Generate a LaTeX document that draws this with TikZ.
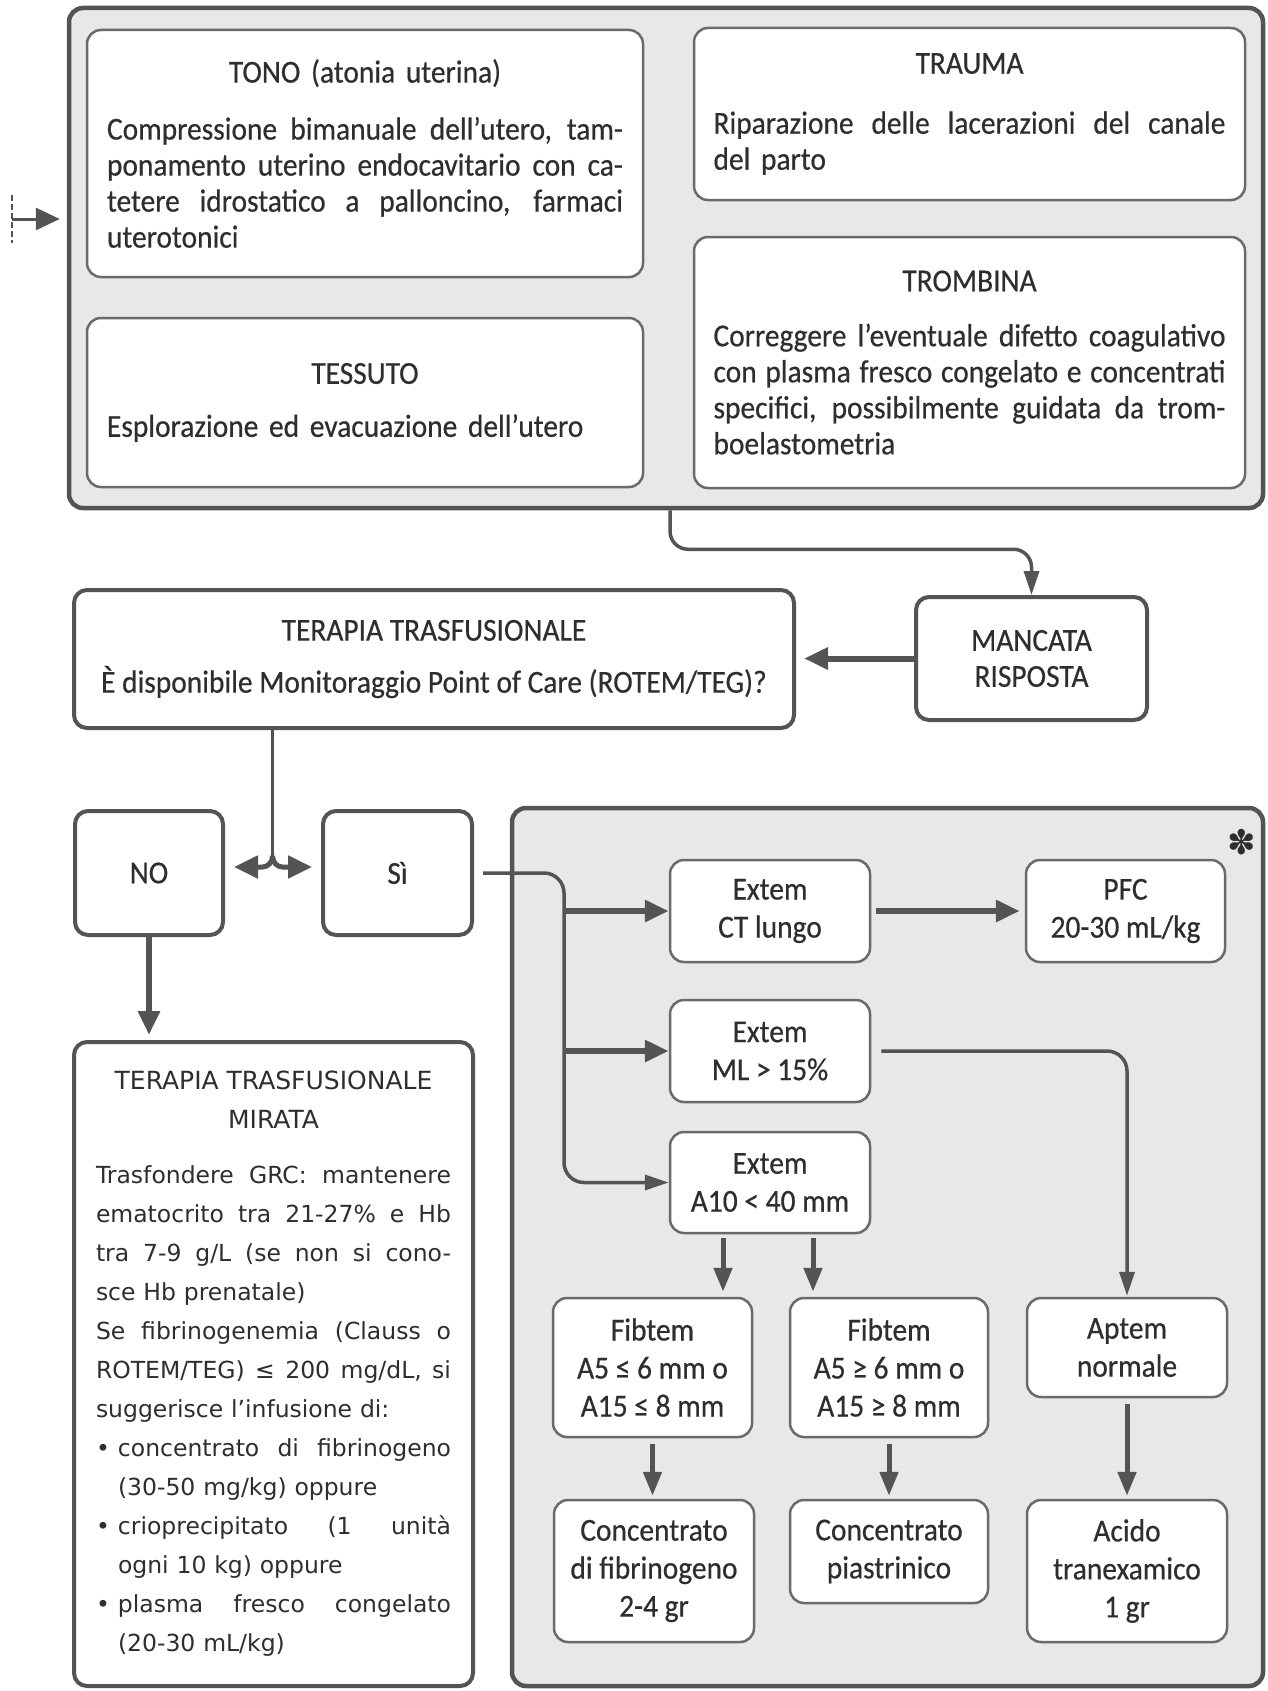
\documentclass[tikz,border=0pt]{standalone}
\usepackage{fontspec}
\setmainfont{Carlito}[FakeStretch=0.92,FakeBold=0.5]
\newfontfamily\widesans{DejaVu Sans}
\usetikzlibrary{arrows.meta}

\definecolor{ink}{HTML}{2E2E2E}
\definecolor{edge}{HTML}{545454}
\definecolor{softedge}{HTML}{6A6A6A}
\definecolor{panelfill}{HTML}{E8E8E8}

% width of the justified lines in the current box
\newlength{\jw}
% one justified line: the word spaces grow until the line fills \jw
\newcommand{\jl}[1]{\hbox to \jw{\spaceskip=\fontdimen2\font plus 1fil\relax #1}\par}
% bullet item line and its indented continuation
\newcommand{\bul}[1]{\hbox to \jw{\hbox to 22pt{•\hfil}\spaceskip=\fontdimen2\font plus 1fil\relax #1}\par}
\newcommand{\ind}[1]{\hspace*{22pt}#1\par}

\begin{document}
\begin{tikzpicture}[x=1pt,y=-1pt,
  every node/.style={font=\fontsize{32}{36}\selectfont, text=ink, inner sep=0pt},
  panel/.style={draw=edge, line width=4.5pt, fill=panelfill, rounded corners=14pt},
  card/.style={draw=softedge, line width=2.5pt, fill=white, rounded corners=14pt},
  whitebox/.style={draw=edge, line width=4pt, fill=white, rounded corners=13pt},
  fatarrow/.style={draw=edge, line width=6pt, -{Triangle[length=24pt,width=21pt]}},
  medarrow/.style={draw=edge, line width=5pt, -{Triangle[length=24pt,width=18pt]}},
  slimarrow/.style={draw=edge, line width=3.5pt, -{Triangle[length=24pt,width=15pt]}},
  bareline/.style={draw=edge, line width=3.5pt},
  testbox/.style={card, align=center, font=\fontsize{32}{38}\selectfont},
]
\useasboundingbox (0,0) rectangle (1268,1691);
\fill[white] (0,0) rectangle (1268,1691);

% ---------- first-line measures (the four T) ----------
\node[panel, minimum width=1194pt, minimum height=500pt] (cause) at (666,258) {};

\node[card, minimum width=556pt, minimum height=247pt, text width=516pt] (tono) at (365,153.5) {%
  \setlength{\jw}{516pt}%
  {\centering TONO (atonia uterina)\par}\vspace{21pt}
  \jl{Compressione bimanuale dell’utero, tam-}
  \jl{ponamento uterino endocavitario con ca-}
  \jl{tetere idrostatico a palloncino, farmaci}
  uterotonici\par};

\node[card, minimum width=556pt, minimum height=169pt, text width=516pt] (tessuto) at (365,402.5) {%
  {\centering TESSUTO\par}\vspace{17pt}
  Esplorazione ed evacuazione dell’utero\par};

\node[card, minimum width=551pt, minimum height=172pt, text width=512pt] (trauma) at (969.5,114) {%
  \setlength{\jw}{512pt}%
  {\centering TRAUMA\par}\vspace{24pt}
  \jl{Riparazione delle lacerazioni del canale}
  del parto\par};

\node[card, minimum width=551pt, minimum height=251pt, text width=512pt] (trombina) at (969.5,362.5) {%
  \setlength{\jw}{512pt}%
  {\centering TROMBINA\par}\vspace{19pt}
  \jl{Correggere l’eventuale difetto coagulativo}
  \jl{con plasma fresco congelato e concentrati}
  \jl{specifici, possibilmente guidata da trom-}
  boelastometria\par};

% entry arrow from the left
\coordinate (entry) at (12,219);
\draw[draw=edge, line width=2pt, dash pattern=on 6pt off 3pt]
  ([yshift=24pt]entry) -- ([yshift=-24pt]entry);
\draw[draw=edge, line width=3pt, -{Triangle[length=24pt,width=22pt]}, shorten >=7pt]
  (entry) -- (entry -| cause.west);

% ---------- no response / transfusion ----------
\node[whitebox, minimum width=231pt, minimum height=123pt, align=center] (mancata) at (1031.5,658.5) {MANCATA\\RISPOSTA};
\node[whitebox, minimum width=720pt, minimum height=138pt, align=center] (terapia) at (434,659)
  {TERAPIA TRASFUSIONALE\\[16pt]È disponibile Monitoraggio Point of Care (ROTEM/TEG)?};

\draw[slimarrow, rounded corners=18pt] ([xshift=4pt]cause.south) -- ++(0,39) -| (mancata.north);
\draw[fatarrow, shorten >=8pt] (mancata.west) -- (terapia.east |- mancata.west);

% ---------- decision ----------
\node[whitebox, minimum width=148pt, minimum height=124pt] (no) at (149,873) {NO};
\node[whitebox, minimum width=149pt, minimum height=124pt] (si) at (397.5,873) {Sì};

\coordinate (split) at (272.5,856);
\coordinate (lc) at (262.5,867);
\coordinate (rc) at (282.5,867);
\draw[bareline] (terapia.south -| split) -- (split);
\draw[draw=edge, line width=5pt, -{Triangle[length=24pt,width=22pt]}, shorten >=9pt]
  (split) to[out=-90,in=0] (lc) -- (lc -| no.east);
\draw[draw=edge, line width=5pt, -{Triangle[length=24pt,width=22pt]}, shorten >=9pt]
  (split) to[out=-90,in=180] (rc) -- (rc -| si.west);

% ---------- targeted therapy without point of care ----------
\node[whitebox, minimum width=399pt, minimum height=644pt, text width=355pt,
      font=\widesans\fontsize{23.5}{39}\selectfont] (mirata) at (273.5,1364) {%
  \setlength{\jw}{355pt}%
  {\centering\fontsize{25}{39}\selectfont TERAPIA TRASFUSIONALE\\MIRATA\par}\vspace{16pt}
  \jl{Trasfondere GRC: mantenere}
  \jl{ematocrito tra 21-27\% e Hb}
  \jl{tra 7-9 g/L (se non si cono-}
  sce Hb prenatale)\par
  \jl{Se fibrinogenemia (Clauss o}
  \jl{ROTEM/TEG) ≤ 200 mg/dL, si}
  suggerisce l’infusione di:\par
  \bul{concentrato di fibrinogeno}
  \ind{(30-50 mg/kg) oppure}
  \bul{crioprecipitato (1 unità}
  \ind{ogni 10 kg) oppure}
  \bul{plasma fresco congelato}
  \ind{(20-30 mL/kg)}};

\draw[fatarrow, shorten >=5pt] (no.south) -- (mirata.north -| no.south);

% ---------- point-of-care algorithm ----------
\node[panel, minimum width=751pt, minimum height=878pt] (tests) at (887.5,1247) {};
\node[font=\widesans\fontsize{34}{34}\selectfont, text=ink] (star) at (1242,842) {✽};

\node[testbox, minimum width=200pt, minimum height=102pt] (ct) at (770,911) {Extem\\CT lungo};
\node[testbox, minimum width=199pt, minimum height=102pt] (pfc) at (1125.5,911) {PFC\\20-30 mL/kg};
\node[testbox, minimum width=200pt, minimum height=102pt] (ml) at (770,1051) {Extem\\ML > 15\%};
\node[testbox, minimum width=200pt, minimum height=101pt] (a10) at (770,1182.5) {Extem\\A10 < 40 mm};

\node[testbox, minimum width=199pt, minimum height=139pt] (fib1) at (652.5,1367.5) {Fibtem\\A5 ≤ 6 mm o\\A15 ≤ 8 mm};
\node[testbox, minimum width=198pt, minimum height=139pt] (fib2) at (889,1367.5) {Fibtem\\A5 ≥ 6 mm o\\A15 ≥ 8 mm};
\node[testbox, minimum width=200pt, minimum height=99pt] (aptem) at (1127,1347.5) {Aptem\\normale};

\node[testbox, minimum width=200pt, minimum height=142pt] (concfib) at (654,1571) {Concentrato\\di fibrinogeno\\2-4 gr};
\node[testbox, minimum width=198pt, minimum height=103pt] (piastr) at (889,1551.5) {Concentrato\\piastrinico};
\node[testbox, minimum width=200pt, minimum height=142pt] (acido) at (1127,1571) {Acido\\tranexamico\\1 gr};

% bus line from "Sì" feeding the three Extem tests
\coordinate (bus) at (564,873);
\draw[slimarrow, rounded corners=20pt] ([xshift=9pt]si.east) -- (bus) -- (bus |- a10.west) -- (a10.west);
\draw[fatarrow] (bus |- ct.west) -- (ct.west);
\draw[fatarrow] (bus |- ml.west) -- (ml.west);

\draw[fatarrow, shorten <=5pt, shorten >=5pt] (ct.east) -- (pfc.west);
\draw[slimarrow, rounded corners=20pt, shorten <=10pt, shorten >=1pt]
  (ml.east) -- (ml.east -| aptem.north) -- (aptem.north);

\draw[medarrow, shorten <=4pt, shorten >=5pt] ([xshift=-47pt]a10.south) -- ([xshift=-47pt]a10.south |- fib1.north);
\draw[medarrow, shorten <=4pt, shorten >=5pt] ([xshift=43pt]a10.south) -- ([xshift=43pt]a10.south |- fib2.north);

\draw[medarrow, shorten <=6pt, shorten >=3pt] (fib1.south) -- (concfib.north -| fib1.south);
\draw[medarrow, shorten <=6pt, shorten >=3pt] (fib2.south) -- (piastr.north);
\draw[medarrow, shorten <=6pt, shorten >=3pt] (aptem.south) -- (acido.north);

\end{tikzpicture}
\end{document}
